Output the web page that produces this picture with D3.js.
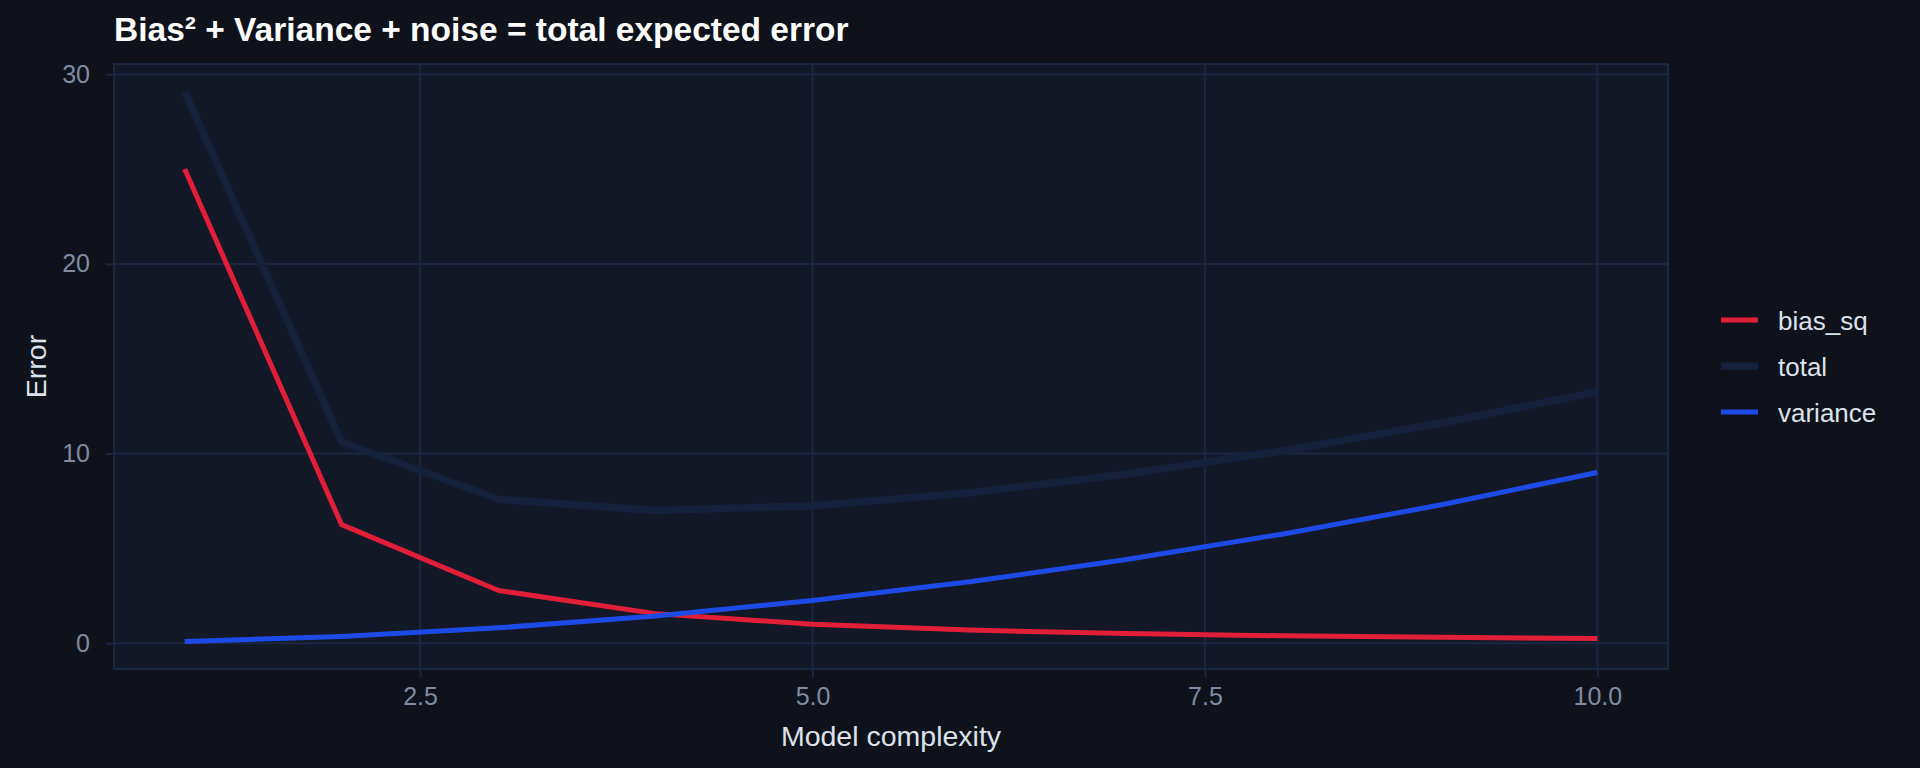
<!DOCTYPE html>
<html>
<head>
<meta charset="utf-8">
<script src="https://cdn.jsdelivr.net/npm/d3@7"></script>
<style>
  html, body { margin: 0; padding: 0; background: #0f121a; }
  svg { display: block; }
  text { font-family: "Liberation Sans", Arial, Helvetica, sans-serif; }
</style>
</head>
<body>
<svg id="chart" width="1920" height="768"></svg>
<script>
// ---- data ----
const complexity = [1, 2, 3, 4, 5, 6, 7, 8, 9, 10];
const biasSq   = [25, 6.25, 2.78, 1.56, 1.0, 0.69, 0.51, 0.39, 0.31, 0.25];
const variance = [0.09, 0.36, 0.81, 1.44, 2.25, 3.24, 4.41, 5.76, 7.29, 9.0];
const total    = [29.09, 10.61, 7.59, 7.0, 7.25, 7.93, 8.92, 10.15, 11.6, 13.25];
const seriesNames = ["bias_sq", "total", "variance"];
const xTicks = [2.5, 5.0, 7.5, 10.0];
const yTicks = [0, 10, 20, 30];
const titleText = "Bias\u00B2 + Variance + noise = total expected error";
const xLabel = "Model complexity";
const yLabel = "Error";

const colors = { bias_sq: "#e11f3a", total: "#15203a", variance: "#1d4ae6" };
const widths = { bias_sq: 5, total: 7.5, variance: 5 };
const seriesValues = { bias_sq: biasSq, total: total, variance: variance };

const svg = d3.select("#chart");
const W = 1920, H = 768;
const panel = { left: 114, right: 1668, top: 64, bottom: 669 };

svg.append("rect").attr("width", W).attr("height", H).attr("fill", "#0f121a");

// scales with 5% expansion (ggplot style)
const allY = biasSq.concat(variance, total);
const xMin = d3.min(complexity), xMax = d3.max(complexity);
const yMin = d3.min(allY), yMax = d3.max(allY);
const xPad = (xMax - xMin) * 0.05, yPad = (yMax - yMin) * 0.05;
const x = d3.scaleLinear().domain([xMin - xPad, xMax + xPad]).range([panel.left, panel.right]);
const y = d3.scaleLinear().domain([yMin - yPad, yMax + yPad]).range([panel.bottom, panel.top]);

const gridColor = "#1b2640";

// panel background
svg.append("rect")
  .attr("x", panel.left).attr("y", panel.top)
  .attr("width", panel.right - panel.left).attr("height", panel.bottom - panel.top)
  .attr("fill", "#131826");

// gridlines
const grid = svg.append("g");
grid.selectAll("line.h").data(yTicks).join("line")
  .attr("x1", panel.left).attr("x2", panel.right)
  .attr("y1", d => y(d)).attr("y2", d => y(d))
  .attr("stroke", gridColor).attr("stroke-width", 2);
grid.selectAll("line.v").data(xTicks).join("line")
  .attr("y1", panel.top).attr("y2", panel.bottom)
  .attr("x1", d => x(d)).attr("x2", d => x(d))
  .attr("stroke", gridColor).attr("stroke-width", 2);

// lines
const line = d3.line().x((d, i) => x(complexity[i])).y(d => y(d));
const drawOrder = ["total", "bias_sq", "variance"];
drawOrder.forEach(name => {
  svg.append("path")
    .datum(seriesValues[name])
    .attr("d", line)
    .attr("fill", "none")
    .attr("stroke", colors[name])
    .attr("stroke-width", widths[name])
    .attr("stroke-linejoin", "round")
    .attr("stroke-linecap", "butt");
});

// panel border
svg.append("rect")
  .attr("x", panel.left).attr("y", panel.top)
  .attr("width", panel.right - panel.left).attr("height", panel.bottom - panel.top)
  .attr("fill", "none").attr("stroke", gridColor).attr("stroke-width", 2);

// axes
const xAxis = d3.axisBottom(x).tickValues(xTicks).tickFormat(d3.format(".1f")).tickSize(8).tickPadding(10);
const yAxis = d3.axisLeft(y).tickValues(yTicks).tickFormat(d3.format("d")).tickSize(8).tickPadding(16);

const gx = svg.append("g").attr("transform", `translate(0,${panel.bottom})`).call(xAxis);
const gy = svg.append("g").attr("transform", `translate(${panel.left},0)`).call(yAxis);
[gx, gy].forEach(g => {
  g.select(".domain").remove();
  g.selectAll(".tick line").attr("stroke", gridColor).attr("stroke-width", 2);
  g.selectAll(".tick text").attr("fill", "#7f8ba3").attr("font-size", 25)
    .style("font-family", '"Liberation Sans", Arial, sans-serif');
});
gx.selectAll(".tick text").attr("dy", "0.71em");

// axis titles
svg.append("text")
  .attr("x", (panel.left + panel.right) / 2).attr("y", 746)
  .attr("text-anchor", "middle").attr("fill", "#dce2ec").attr("font-size", 28.5)
  .text(xLabel);
svg.append("text")
  .attr("transform", `translate(46,${(panel.top + panel.bottom) / 2}) rotate(-90)`)
  .attr("text-anchor", "middle").attr("fill", "#dce2ec").attr("font-size", 28.5)
  .text(yLabel);

// title
svg.append("text")
  .attr("x", 114).attr("y", 41)
  .attr("fill", "#ffffff").attr("font-size", 33.5).attr("font-weight", "bold")
  .text(titleText);

// legend
const legend = svg.append("g");
const legY = d3.scalePoint().domain(seriesNames).range([320, 412]);
seriesNames.forEach(name => {
  legend.append("line")
    .attr("x1", 1721).attr("x2", 1758)
    .attr("y1", legY(name)).attr("y2", legY(name))
    .attr("stroke", colors[name]).attr("stroke-width", widths[name]);
  legend.append("text")
    .attr("x", 1778).attr("y", legY(name) + 10)
    .attr("fill", "#dce2ec").attr("font-size", 26)
    .text(name);
});
</script>
</body>
</html>
